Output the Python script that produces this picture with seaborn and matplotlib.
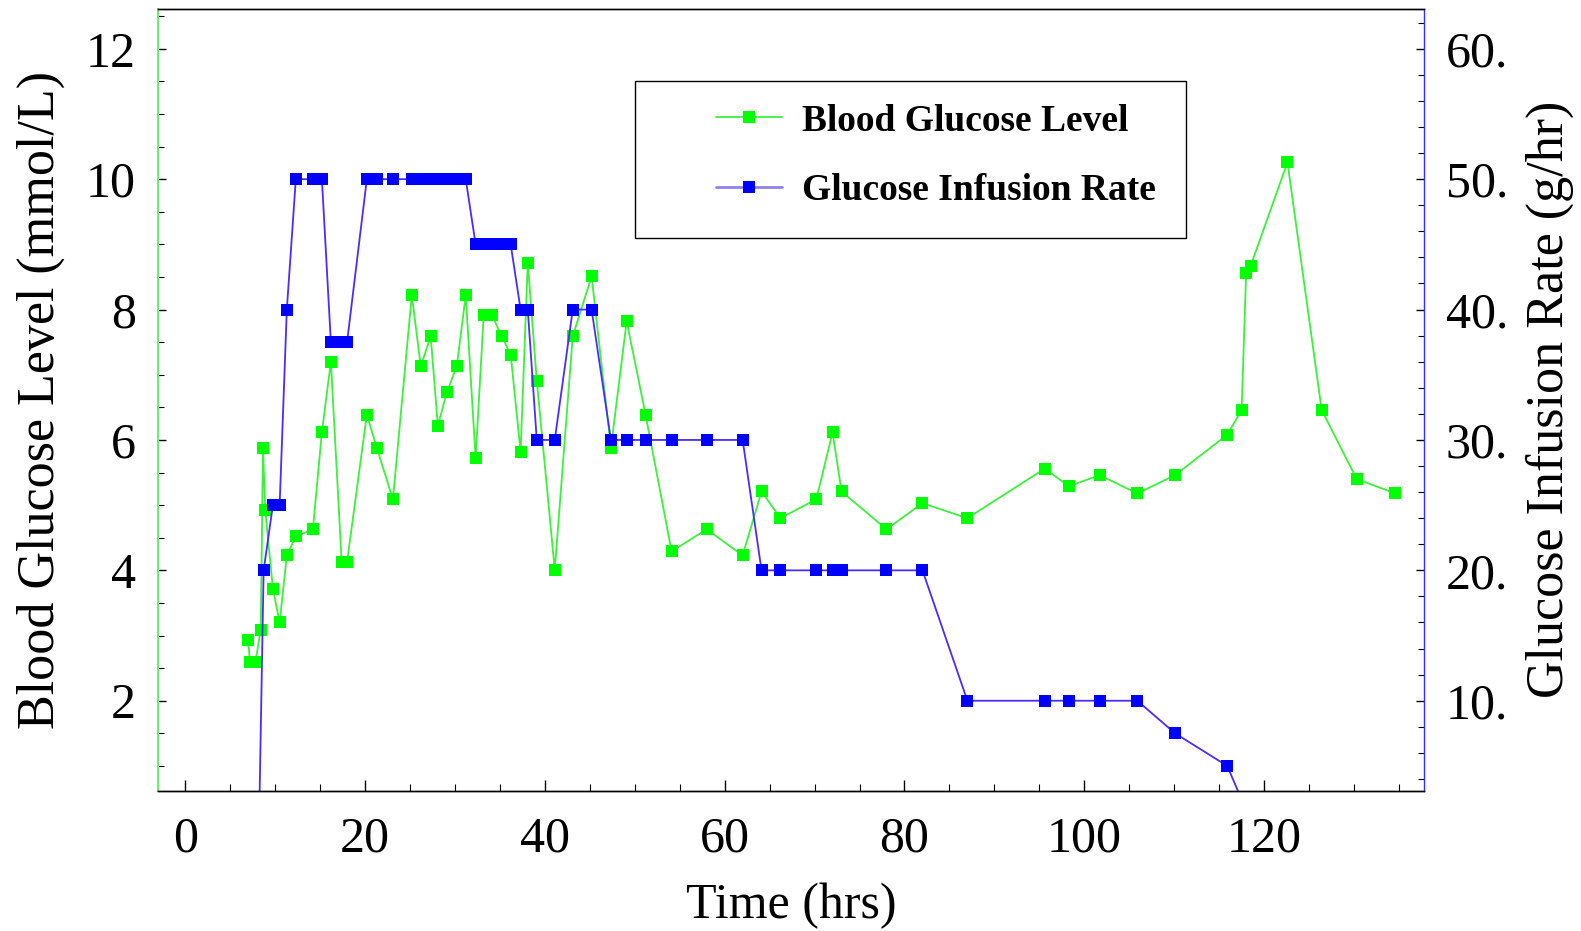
import matplotlib
matplotlib.use("Agg")
import matplotlib.pyplot as plt
import matplotlib.patches as patches
from matplotlib.ticker import MultipleLocator, FuncFormatter
from matplotlib.lines import Line2D
import seaborn as sns
import pandas as pd

# blood glucose (mmol/L) readings
bg_time = [7.0, 7.2, 7.8, 8.4, 8.65, 8.9, 9.75, 10.5, 11.3, 12.3, 14.2, 15.2, 16.2, 17.4, 18.0,
           20.2, 21.3, 23.1, 25.2, 26.2, 27.3, 28.1, 29.1, 30.2, 31.2, 32.3, 33.2, 34.1, 35.2,
           36.2, 37.3, 38.1, 39.1, 41.1, 43.1, 45.2, 47.35, 49.1, 51.2, 54.1, 58.0, 62.0, 64.1,
           66.2, 70.2, 72.0, 73.0, 78.0, 82.0, 87.0, 95.6, 98.3, 101.7, 105.9, 110.1, 115.9,
           117.5, 118.0, 118.5, 122.6, 126.4, 130.3, 134.6]
bg_level = [2.93, 2.59, 2.59, 3.09, 5.88, 4.92, 3.72, 3.20, 4.23, 4.52, 4.63, 6.12, 7.20, 4.13, 4.13,
            6.39, 5.88, 5.09, 8.22, 7.13, 7.59, 6.22, 6.73, 7.13, 8.22, 5.72, 7.92, 7.92, 7.59,
            7.31, 5.82, 8.72, 6.91, 4.01, 7.59, 8.51, 5.88, 7.82, 6.39, 4.29, 4.63, 4.23, 5.21,
            4.80, 5.09, 6.12, 5.21, 4.63, 5.03, 4.80, 5.56, 5.29, 5.46, 5.18, 5.46, 6.08,
            6.46, 8.56, 8.67, 10.26, 6.46, 5.40, 5.18]

# glucose infusion rate (g/hr)
gir_time = [8.2, 8.72, 9.75, 10.5, 11.3, 12.3, 14.2, 15.2, 16.2, 17.3, 18.0, 20.2, 21.3, 23.1,
            25.2, 26.2, 27.3, 28.1, 29.1, 30.2, 31.2, 32.3, 33.2, 34.1, 35.2, 36.2, 37.3, 38.1,
            39.1, 41.1, 43.1, 45.2, 47.35, 49.1, 51.2, 54.1, 58.0, 62.0, 64.1, 66.2, 70.2, 72.0,
            73.0, 78.0, 82.0, 87.0, 95.6, 98.3, 101.7, 105.9, 110.1, 115.9, 119.0]
gir_rate = [0, 20, 25, 25, 40, 50, 50, 50, 37.5, 37.5, 37.5, 50, 50, 50,
            50, 50, 50, 50, 50, 50, 50, 45, 45, 45, 45, 45, 40, 40,
            30, 30, 40, 40, 30, 30, 30, 30, 30, 30, 20, 20, 20, 20,
            20, 20, 20, 10, 10, 10, 10, 10, 7.5, 5, 0]

x_ticks = [0, 20, 40, 60, 80, 100, 120]
left_ticks = [2, 4, 6, 8, 10, 12]
right_ticks = [10, 20, 30, 40, 50, 60]

sns.set_style("white")
plt.rcParams['font.family'] = ['Liberation Serif', 'DejaVu Serif']
plt.rcParams['text.color'] = 'black'
plt.rcParams['axes.labelcolor'] = 'black'
plt.rcParams['xtick.color'] = 'black'
plt.rcParams['ytick.color'] = 'black'

green_line = '#3cf03c'
green_mk = '#00ff00'
blue_line = '#4a2cff'
blue_mk = '#0000ff'

fig = plt.figure(figsize=(15.81, 9.31), dpi=100)
ax = fig.add_axes([0.1001, 0.1507, 0.8004, 0.8396])
ax2 = ax.twinx()

bg = pd.DataFrame({"t": bg_time, "v": bg_level})
gir = pd.DataFrame({"t": gir_time, "v": gir_rate})

sns.lineplot(data=bg, x="t", y="v", ax=ax, estimator=None, sort=False, color=green_line, lw=1.3,
             marker='s', markersize=8.5, markerfacecolor=green_mk, markeredgewidth=0)
sns.lineplot(data=gir, x="t", y="v", ax=ax2, estimator=None, sort=False, color=blue_line, lw=1.3,
             marker='s', markersize=8.5, markerfacecolor=blue_mk, markeredgewidth=0)

ax.set_xlim(-3.0, 137.75)
ax.set_ylim(0.62, 12.61)
ax2.set_ylim(3.1, 63.05)

ax.set_xticks(x_ticks)
ax.xaxis.set_minor_locator(MultipleLocator(5))
ax.set_yticks(left_ticks)
ax.yaxis.set_minor_locator(MultipleLocator(0.5))
ax2.set_yticks(right_ticks)
ax2.yaxis.set_minor_locator(MultipleLocator(2))
ax2.yaxis.set_major_formatter(FuncFormatter(lambda v, p: f"{int(v)}."))

fs = 36
ax.tick_params(axis='x', which='major', direction='in', length=8, width=1, labelsize=fs, pad=18,
               top=False, bottom=True)
ax.tick_params(axis='x', which='minor', direction='in', length=5, width=0.8, top=False, bottom=True)
ax.tick_params(axis='y', which='major', direction='in', length=6, width=1, labelsize=fs, pad=16,
               left=True, right=False)
ax.tick_params(axis='y', which='minor', direction='in', length=4, width=0.8, left=True, right=False)
ax2.tick_params(axis='y', which='major', direction='in', length=6, width=1, labelsize=fs, pad=16,
                right=True, left=False)
ax2.tick_params(axis='y', which='minor', direction='in', length=4, width=0.8, right=True, left=False)

for a in (ax, ax2):
    for s in a.spines.values():
        s.set_linewidth(1.0)
        s.set_color('black')
ax.spines['right'].set_visible(False)
ax2.spines['left'].set_visible(False)
ax.spines['left'].set_color('#66f066')
ax.spines['left'].set_linewidth(1.4)
ax2.spines['right'].set_color('#3030ff')

ax.set_xlabel("Time (hrs)", fontsize=fs, va='center')
ax.xaxis.set_label_coords(0.5, -0.148)
ax.set_ylabel("Blood Glucose Level (mmol/L)", fontsize=37.5, va='center')
ax.yaxis.set_label_coords(-0.093, 0.5)
ax2.set_ylabel("Glucose Infusion Rate (g/hr)", fontsize=37.5, va='center', rotation=90)
ax2.yaxis.set_label_coords(1.1, 0.5)

# legend box drawn separately, entries inside without frame
ax2.add_patch(patches.Rectangle((0.3767, 0.7071), 0.4355, 0.2012, transform=ax2.transAxes,
                                facecolor='white', edgecolor='black', lw=1.0, zorder=5))
handles = [
    Line2D([], [], color=green_line, lw=1.3, marker='s', markersize=8.5,
           markerfacecolor=green_mk, markeredgewidth=0),
    Line2D([], [], color='#9080f0', lw=2, marker='s', markersize=8.5,
           markerfacecolor=blue_mk, markeredgewidth=0),
]
leg = ax2.legend(handles, ["Blood Glucose Level", "Glucose Infusion Rate"], frameon=False,
                 loc='center left', bbox_to_anchor=(0.4407, 0.8122), borderpad=0, borderaxespad=0,
                 handlelength=1.75, handletextpad=0.55, labelspacing=0.92,
                 prop={'weight': 'bold', 'size': 27, 'family': 'Liberation Serif'})
leg.set_zorder(6)

fig.savefig("out.png", dpi=100)
